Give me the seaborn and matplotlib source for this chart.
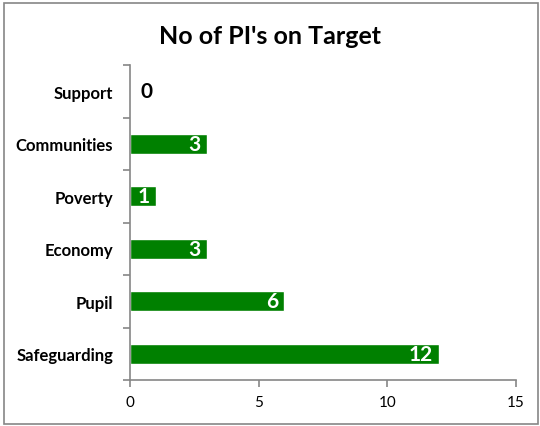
import matplotlib
matplotlib.use("Agg")
import matplotlib.pyplot as plt
import seaborn as sns
import pandas as pd
import numpy as np
from matplotlib.ticker import FixedLocator

categories = ["Support", "Communities", "Poverty", "Economy", "Pupil", "Safeguarding"]
values = [0, 3, 1, 3, 6, 12]
xticks = [0, 5, 10, 15]

sns.set_theme(style="white")
plt.rcParams['font.family'] = ['Lato', 'DejaVu Sans']

df = pd.DataFrame({"category": categories, "value": values})

fig = plt.figure(figsize=(5.4, 4.27), dpi=100)
ax = fig.add_axes([130/540, 1-381/427, (516-130)/540, (381-66)/427])
sns.barplot(data=df, y="category", x="value", orient="h", color="#008000",
            saturation=1, width=0.38, ax=ax, order=categories)

ax.set_xlim(0, 15)
ax.set_ylim(len(categories)-0.5, -0.5)
ax.set_xticks(xticks)
ax.set_xticklabels([str(t) for t in xticks], fontsize=11)
ax.set_xlabel("")
ax.set_ylabel("")
ax.set_yticks(range(len(categories)))
ax.set_yticklabels(categories, fontsize=12, fontweight="bold", color="black")
ax.yaxis.set_minor_locator(FixedLocator(np.arange(-0.5, len(categories), 1)))
ax.tick_params(axis="y", which="major", length=0, pad=12)
ax.tick_params(axis="y", which="minor", length=5, color="#868686", width=1.2, direction="out", left=True)
ax.tick_params(axis="x", which="major", length=5, color="#868686", width=1.2, direction="out", bottom=True, pad=6, labelcolor="black")
for s in ["top", "right"]:
    ax.spines[s].set_visible(False)
for s in ["left", "bottom"]:
    ax.spines[s].set_color("#868686")
    ax.spines[s].set_linewidth(1.2)

for i, v in enumerate(values):
    if v > 0:
        ax.text(v - 0.25, i, str(v), ha="right", va="center", color="white",
                fontsize=15, fontweight="bold")
    else:
        ax.text(0.4, i, str(v), ha="left", va="center", color="black",
                fontsize=15, fontweight="bold")

fig.text(0.5, 1-36/427, "No of PI's on Target", ha="center", va="center",
         fontsize=18, fontweight="bold", color="black")

border = plt.Rectangle((4/540, 2/427), 534/540, 421/427, transform=fig.transFigure,
                       fill=False, edgecolor="#868686", linewidth=1.2)
fig.add_artist(border)

fig.savefig("out.png", dpi=100)
